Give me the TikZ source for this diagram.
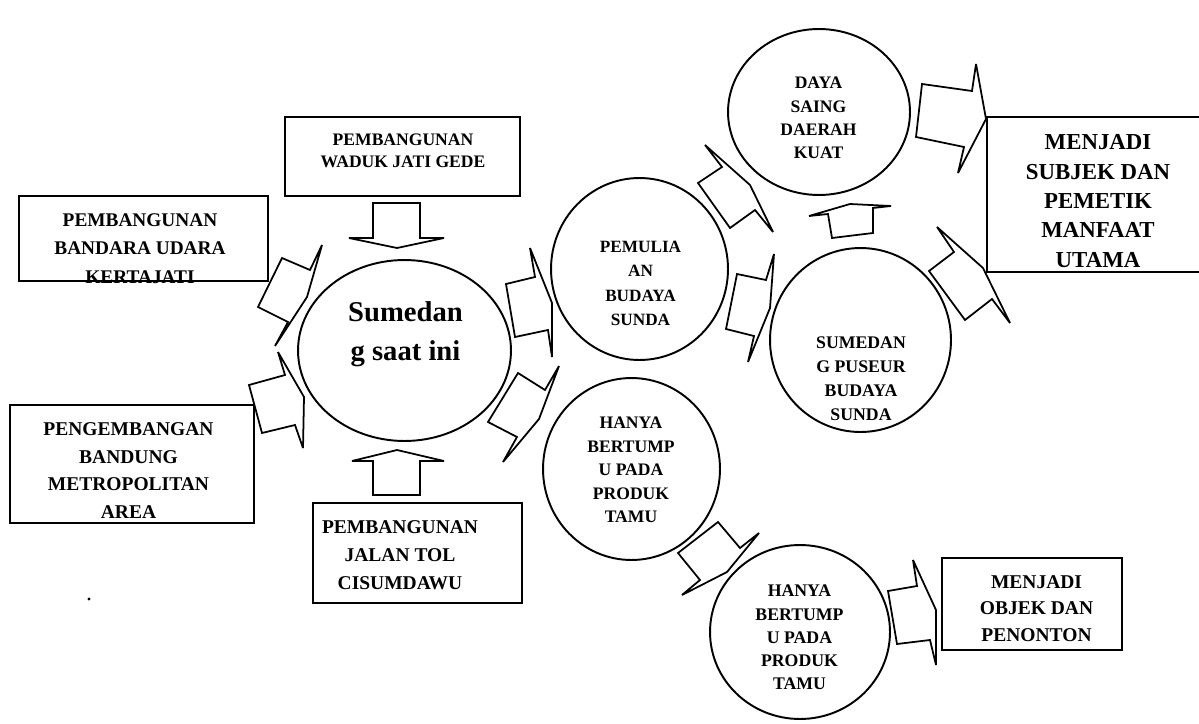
\documentclass[tikz,border=0pt]{standalone}
\usepackage{fontspec}
\setmainfont{Liberation Serif}
\usetikzlibrary{shapes.geometric,fit}
\newcommand\txtsize[2]{\fontsize{#1pt}{#2pt}\selectfont\bfseries}
\begin{document}
\begin{tikzpicture}[x=0.02cm,y=-0.02cm,
  frame/.style={draw,line width=1.1pt,inner sep=0pt},
  oval/.style={draw,ellipse,line width=1.1pt,inner sep=0pt},
  lbl/.style={align=center,inner sep=0pt},
  barrow/.style={draw,line width=1pt,line join=miter,miter limit=4,fill=white}]
\useasboundingbox (0,0) rectangle (1199,723);
\begin{scope}
\clip (0,0) rectangle (1199,723);

% ---- rectangular boxes ----
\node[frame,fit={(285,117) (520,196)}] (waduk) {};
\node[frame,fit={(19,196) (268,281)}] (kertajati) {};
\node[frame,fit={(10,405) (254,523)}] (bandung) {};
\node[frame,fit={(313,503) (522,603)}] (tol) {};
\node[frame,fit={(987,117) (1215,272)}] (subjek) {};
\node[frame,fit={(942,558) (1122,650)}] (objek) {};

% ---- circles ----
\node[oval,minimum width=4.26cm,minimum height=3.62cm] (now) at (404.5,350.5) {};
\node[oval,minimum width=3.54cm,minimum height=3.64cm] (pemulia) at (639.5,269) {};
\node[oval,minimum width=3.54cm,minimum height=3.64cm] (hanyaA) at (631.5,469) {};
\node[oval,minimum width=3.64cm,minimum height=3.32cm] (daya) at (819,112) {};
\node[oval,minimum width=3.62cm,minimum height=3.68cm] (puseur) at (860.5,340) {};
\node[oval,minimum width=3.60cm,minimum height=3.48cm] (hanyaB) at (800,632) {};

% ---- block arrows ----
\draw[barrow] (373,203) -- (420,203) -- (420,238) -- (444,238) -- (397,248) -- (349,238) -- (373,238) -- cycle;
\draw[barrow] (373,495) -- (420,495) -- (420,461) -- (444,461) -- (397,450) -- (352,461) -- (373,461) -- cycle;
\draw[barrow] (282,258) -- (310,270) -- (322,245) -- (307,297) -- (275,346) -- (288,322) -- (258,307) -- cycle;
\draw[barrow] (249,385) -- (285,375) -- (278,352) -- (304,397) -- (303,448) -- (295,425) -- (262,433) -- cycle;
\draw[barrow] (506,284) -- (535,277) -- (530,248) -- (552,303) -- (552,357) -- (548,330) -- (515,337) -- cycle;
\draw[barrow] (518,373) -- (545,390) -- (559,366) -- (539,419) -- (503,462) -- (517,437) -- (488,422) -- cycle;
\draw[barrow] (698,183) -- (722,167) -- (705,145) -- (750,185) -- (773,232) -- (755,210) -- (730,228) -- cycle;
\draw[barrow] (737,274) -- (766,280) -- (774,254) -- (770,308) -- (748,362) -- (754,336) -- (726,329) -- cycle;
\draw[barrow] (832,238) -- (828,214) -- (809,216) -- (850,204) -- (891,206) -- (873,208) -- (873,233) -- cycle;
\draw[barrow] (929,271) -- (954,252) -- (937,227) -- (983,268) -- (1010,323) -- (992,299) -- (965,320) -- cycle;
\draw[barrow] (922,84) -- (972,91) -- (976,64) -- (986,119) -- (958,173) -- (964,147) -- (916,137) -- cycle;
\draw[barrow] (718,522) -- (740,548) -- (759,533) -- (727,572) -- (682,595) -- (700,580) -- (678,553) -- cycle;
\draw[barrow] (888,591) -- (917,586) -- (913,560) -- (936,610) -- (936,665) -- (930,640) -- (897,644) -- cycle;

% ---- texts ----
\node[lbl,font=\txtsize{10}{12.5}] (waduk-t) at (403,151) {PEMBANGUNAN\\WADUK JATI GEDE};
\node[lbl,font=\txtsize{11}{16.2}] (kertajati-t) at (140,248.5) {PEMBANGUNAN\\BANDARA UDARA\\KERTAJATI};
\node[lbl,font=\txtsize{11.1}{15.7}] (bandung-t) at (128.5,470.5) {PENGEMBANGAN\\BANDUNG\\METROPOLITAN\\AREA};
\node[lbl,font=\txtsize{11.1}{15.9}] (tol-t) at (400,555) {PEMBANGUNAN\\JALAN TOL\\CISUMDAWU};
\node[lbl,font=\txtsize{13}{16.7}] (subjek-t) at (1098,201) {MENJADI\\SUBJEK DAN\\PEMETIK\\MANFAAT\\UTAMA};
\node[lbl,font=\txtsize{11.1}{15}] (objek-t) at (1036.5,608.5) {MENJADI\\OBJEK DAN\\PENONTON};
\node[lbl,font=\txtsize{16.3}{22.1}] (now-t) at (405.5,334.5) {Sumedan\\g saat ini};
\node[lbl,font=\txtsize{9.8}{13.8}] (pemulia-t) at (640.5,283.5) {PEMULIA\\AN\\BUDAYA\\SUNDA};
\node[lbl,font=\txtsize{10}{13.3}] (hanyaA-t) at (631,470) {HANYA\\BERTUMP\\U PADA\\PRODUK\\TAMU};
\node[lbl,font=\txtsize{10}{13.2}] (daya-t) at (818.5,118) {DAYA\\SAING\\DAERAH\\KUAT};
\node[lbl,font=\txtsize{10.1}{13.6}] (puseur-t) at (861,379) {SUMEDAN\\G PUSEUR\\BUDAYA\\SUNDA};
\node[lbl,font=\txtsize{10.1}{13.2}] (hanyaB-t) at (799.5,637.5) {HANYA\\BERTUMP\\U PADA\\PRODUK\\TAMU};

% stray mark
\fill (89,599) circle [radius=0.9pt];
\end{scope}
\end{tikzpicture}
\end{document}
